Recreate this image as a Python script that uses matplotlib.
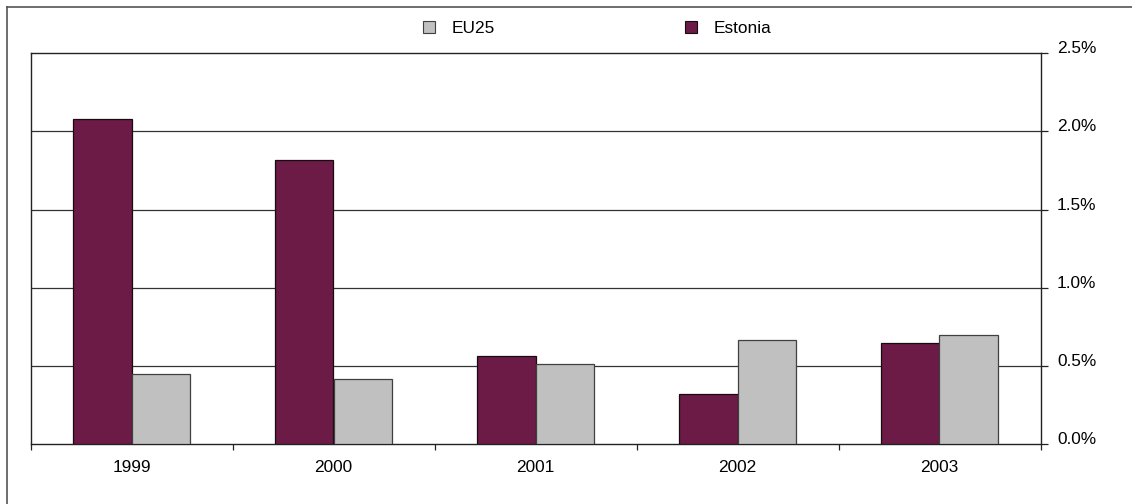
import matplotlib
matplotlib.use("Agg")
import matplotlib.pyplot as plt
import matplotlib.transforms as mtransforms
import numpy as np
from matplotlib.lines import Line2D
from matplotlib.patches import Patch

years = ["1999", "2000", "2001", "2002", "2003"]
estonia = [2.08, 1.815, 0.565, 0.32, 0.65]
eu25 = [0.45, 0.42, 0.51, 0.665, 0.70]
y_ticks = [0.0, 0.5, 1.0, 1.5, 2.0, 2.5]

plt.rcParams["font.family"] = ["Liberation Sans", "DejaVu Sans"]
FS = 12.4

W, H = 1132, 504
fig = plt.figure(figsize=(W / 100, H / 100), dpi=100)

# plot area in pixel coordinates
left, right, top, bottom = 30.5, 1040.5, 53, 444.3
ax = fig.add_axes([left / W, 1 - bottom / H, (right - left) / W, (bottom - top) / H])

x = np.arange(len(years))
bw = 0.29
maroon = "#6B1B46"
grey = "#C0C0C0"
ax.bar(x - bw / 2, estonia, bw, color=maroon, edgecolor="#1a0a12", linewidth=0.9, zorder=3)
ax.bar(x + bw / 2, eu25, bw, color=grey, edgecolor="#404040", linewidth=0.9, zorder=3)

ax.set_xlim(-0.5, len(years) - 0.5)
ax.set_ylim(0, 2.5)

# horizontal gridlines
for v in y_ticks[1:-1]:
    ax.axhline(v, color="#333333", linewidth=0.9, zorder=1)

# spines
for s in ["left", "top", "right", "bottom"]:
    ax.spines[s].set_color("#222222")
    ax.spines[s].set_linewidth(1.0)

ax.yaxis.tick_right()
ax.set_yticks(y_ticks)
ax.set_yticklabels([f"{v:.1f}%" for v in y_ticks])
ax.tick_params(axis="y", direction="out", length=4.8, width=0.9, color="#222222",
               labelsize=FS, pad=7, left=False)
# value labels sit slightly above their tick
shift = mtransforms.ScaledTranslation(0, 6 / 100, fig.dpi_scale_trans)
for lbl in ax.get_yticklabels():
    lbl.set_transform(lbl.get_transform() + shift)

# category labels centered, tick marks at category boundaries
ax.set_xticks(x)
ax.set_xticklabels(years)
ax.tick_params(axis="x", which="major", length=0, labelsize=FS, pad=11)
ax.set_xticks(np.arange(len(years) + 1) - 0.5, minor=True)
ax.tick_params(axis="x", which="minor", direction="out", length=4.3, width=0.9, color="#222222")

# legend entries
entries = [("EU25", grey, "#404040", 423), ("Estonia", maroon, "#1a0a12", 685)]
for name, fc, ec, px in entries:
    fig.legend([Patch(facecolor=fc, edgecolor=ec, linewidth=0.8)], [name],
               loc="center left", bbox_to_anchor=(px / W, 1 - 28.7 / H),
               frameon=False, fontsize=FS, handlelength=0.68, handleheight=0.68,
               handletextpad=1.0, borderpad=0, borderaxespad=0)

# outer chart frame (left and top edges visible)
fig.add_artist(Line2D([6.5 / W, 6.5 / W], [0, 1 - 6.5 / H], transform=fig.transFigure,
                      color="#555555", linewidth=1.2))
fig.add_artist(Line2D([6.5 / W, 1], [1 - 6.5 / H, 1 - 6.5 / H], transform=fig.transFigure,
                      color="#555555", linewidth=1.2))

fig.savefig("out.png", dpi=100)
